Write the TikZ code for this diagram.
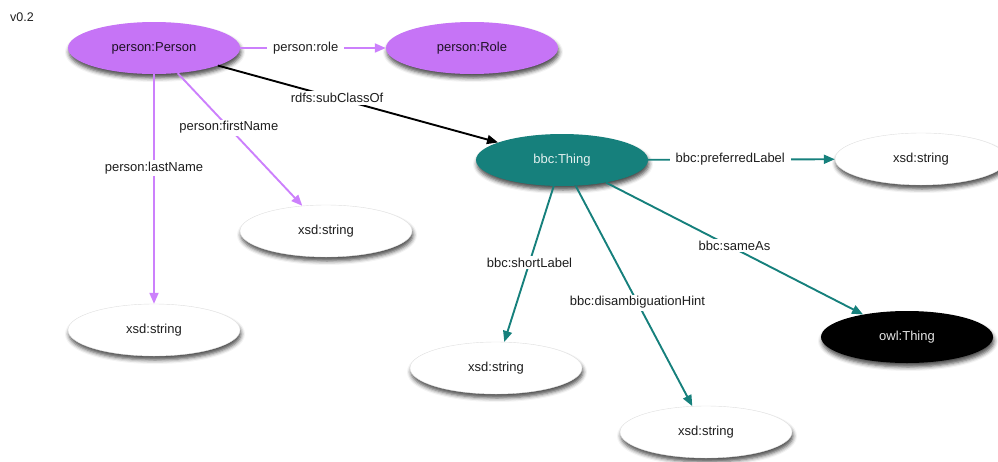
\documentclass[tikz,border=0pt]{standalone}
\usepackage{fontspec}
\setmainfont{Liberation Sans}
\usetikzlibrary{shapes.geometric,arrows.meta,shadows.blur}

\definecolor{personfill}{RGB}{198,116,246}
\definecolor{personline}{RGB}{204,128,252}
\definecolor{bbcteal}{RGB}{22,128,124}
\definecolor{labeltext}{RGB}{30,30,30}

\tikzset{
  concept/.style={ellipse, minimum width=172pt, minimum height=52pt, inner sep=0pt,
    font=\fontsize{13}{15}\selectfont,
    blur shadow={shadow xshift=1pt, shadow yshift=-4pt, shadow blur radius=4pt,
                 shadow opacity=70}},
  personnode/.style={concept, fill=personfill, text=black!85!personfill},
  bbcnode/.style={concept, fill=bbcteal, text=white!88!bbcteal},
  owlnode/.style={concept, fill=black, text=white!90!black},
  literal/.style={concept, fill=white, draw=black!12, line width=0.4pt, text=labeltext},
  rel/.style={line width=1.9pt, -{Triangle[length=11pt,width=9pt]}},
  personrel/.style={rel, draw=personline},
  bbcrel/.style={rel, draw=bbcteal},
  subrel/.style={rel, draw=black},
  edgelabel/.style={fill=white, inner xsep=6pt, inner ysep=2pt, text=labeltext,
    font=\fontsize{13}{15}\selectfont},
}

\begin{document}
\begin{tikzpicture}[x=1pt, y=-1pt]
  \useasboundingbox (0,0) rectangle (998,461);

  % version tag
  \node[text=labeltext, font=\fontsize{12.5}{15}\selectfont] (version) at (22,17) {v0.2};

  % classes
  \node[personnode] (person) at (154,48)  {person:Person};
  \node[personnode] (role)   at (472,48)  {person:Role};
  \node[bbcnode]    (thing)  at (562,160) {bbc:Thing};
  \node[owlnode]    (owl)    at (907,337) {owl:Thing};

  % literal ranges
  \node[literal] (strPref)  at (921,159) {xsd:string};
  \node[literal] (strFirst) at (326,231) {xsd:string};
  \node[literal] (strLast)  at (154,330) {xsd:string};
  \node[literal] (strShort) at (496,368) {xsd:string};
  \node[literal] (strHint)  at (706,432) {xsd:string};

  % person vocabulary
  \draw[personrel] (person) -- node[edgelabel, pos=0.45] (lblRole) {person:role} (role);
  \draw[personrel] (person) -- node[edgelabel, pos=0.41] (lblFirst) {person:firstName} (strFirst);
  \draw[personrel] (person) -- node[edgelabel, pos=0.41] (lblLast) {person:lastName} (strLast);

  % subclass link
  \draw[subrel] (person) -- node[edgelabel, pos=0.425] (lblSub) {rdfs:subClassOf} (thing);

  % bbc vocabulary
  \draw[bbcrel] (thing) -- node[edgelabel, pos=0.44] (lblPref) {bbc:preferredLabel} (strPref);
  \draw[bbcrel] (thing) -- node[edgelabel, pos=0.49] (lblShort) {bbc:shortLabel} (strShort);
  \draw[bbcrel] (thing) -- node[edgelabel, pos=0.53] (lblHint) {bbc:disambiguationHint} (strHint);
  \draw[bbcrel] (thing) -- node[edgelabel, pos=0.5, yshift=3pt] (lblSame) {bbc:sameAs} (owl);
\end{tikzpicture}
\end{document}
